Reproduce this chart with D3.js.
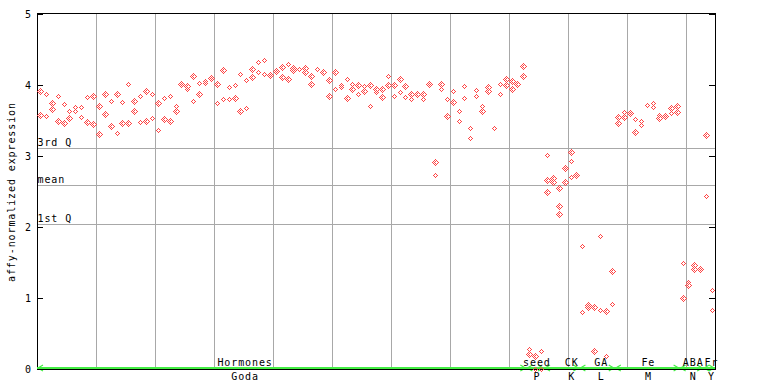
<!DOCTYPE html>
<html><head><meta charset="utf-8">
<script src="https://cdn.jsdelivr.net/npm/d3@7/dist/d3.min.js"></script>
<style>html,body{margin:0;padding:0;background:#fff}</style>
</head><body><svg id="chart" width="768" height="384"></svg>
<script>
// ---- data ----
const groupTop    = ["Hormones", "seed", "CK", "GA", "Fe", "ABA", "Fr"];
const groupBottom = ["Goda", "P", "K", "L", "M", "N", "Y"];
const groupSizes  = [83, 3, 6, 6, 11, 4, 2];

const rep1 = [
  3.91,3.87,3.75,3.84,3.73,3.64,3.69,3.69,3.83,3.85,
  3.71,3.87,3.78,3.88,3.76,4.02,3.77,3.85,3.92,3.88,
  3.74,3.81,3.84,3.71,4.03,3.98,4.13,4.03,4.06,4.10,
  4.02,4.21,3.97,4.00,4.15,4.07,4.23,4.32,4.35,4.16,
  4.21,4.26,4.29,4.24,4.23,4.24,4.12,4.23,4.19,4.07,
  4.19,4.00,4.08,4.02,4.00,3.98,4.00,3.94,3.95,4.12,
  4.00,4.09,3.98,3.87,3.88,3.87,4.02,2.91,4.02,3.80,
  3.91,3.63,3.98,3.40,3.93,3.71,3.97,3.40,4.01,4.08,
  4.05,4.02,4.27,
  0.28,0.18,0.25,
  3.01,2.69,2.55,2.83,3.05,2.73,
  1.73,0.90,0.87,1.87,0.82,1.38,
  3.55,3.62,3.60,3.52,3.50,3.72,3.75,3.58,3.58,3.67,3.70,
  1.49,1.22,1.46,1.41,
  3.29,1.11
];
const rep2 = [
  3.58,3.56,3.66,3.49,3.46,3.53,3.63,3.55,3.48,3.45,
  3.31,3.59,3.42,3.32,3.47,3.46,3.63,3.48,3.49,3.53,
  3.37,3.52,3.50,3.63,4.02,3.95,3.77,3.88,4.03,4.08,
  3.74,3.80,3.80,3.81,3.63,3.68,4.11,4.19,4.15,4.14,
  4.20,4.11,4.09,4.21,4.22,4.18,4.02,4.22,4.18,3.84,
  3.95,3.97,3.81,3.95,3.87,3.91,3.71,3.90,3.83,4.00,
  3.85,3.90,3.83,3.80,3.87,3.80,4.00,2.73,3.95,3.56,
  3.76,3.50,3.81,3.25,3.85,3.63,3.91,3.39,3.88,4.00,
  3.95,4.01,4.13,
  0.21,0.00,0.00,
  2.66,2.63,2.29,2.64,2.93,2.72,
  0.80,0.87,0.25,0.83,0.18,0.92,
  3.47,3.55,3.59,3.34,3.43,null,3.69,3.54,3.57,3.60,3.62,
  1.00,1.19,1.41,1.40,
  2.43,0.83
];
const rep3 = Array.from({length: 115}, () => null);
rep3[86] = 2.49; rep3[88] = 2.19; rep3[89] = 2.82; rep3[90] = 2.71;

const yTicks    = [0, 1, 2, 3, 4, 5];
const refLabels = ["3rd Q", "mean", "1st Q"];
const refValues = [3.11, 2.59, 2.04];

// ---- layout ----
const nSlots = d3.sum(groupSizes);
const labelSlots = [34.8, 84.3, 90.2, 95.2, 103.2, 110.8, 113.9];
const FONT = "'DejaVu Sans Mono', monospace";
const RED = "#ff4444", GRID = "#a8a8a8", GREEN = "#44ee44";

const svg = d3.select("#chart");
const x = d3.scaleLinear().domain([-0.5, nSlots - 0.5]).range([37, 715]);
const y = d3.scaleLinear().domain([0, 5]).range([369, 14]);

// checker pattern for the dotted diamonds
const defs = svg.append("defs");
const pat = defs.append("pattern").attr("id", "chk").attr("patternUnits", "userSpaceOnUse")
  .attr("width", 2).attr("height", 2);
pat.append("rect").attr("x", 0).attr("y", 0).attr("width", 1).attr("height", 1).attr("fill", RED);
pat.append("rect").attr("x", 1).attr("y", 1).attr("width", 1).attr("height", 1).attr("fill", RED);

// vertical grid lines every 10 slots
const vLines = d3.range(10, nSlots, 10).map(k => k - 0.5);
svg.append("g").selectAll("line").data(vLines).join("line")
  .attr("x1", d => Math.round(x(d)) + 0.5).attr("x2", d => Math.round(x(d)) + 0.5)
  .attr("y1", y(5)).attr("y2", y(0))
  .attr("stroke", GRID).attr("stroke-width", 1);

// quartile / mean lines
svg.append("g").selectAll("line").data(refValues).join("line")
  .attr("x1", x.range()[0]).attr("x2", x.range()[1])
  .attr("y1", d => Math.round(y(d)) + 0.5).attr("y2", d => Math.round(y(d)) + 0.5)
  .attr("stroke", GRID).attr("stroke-width", 1);
svg.append("g").selectAll("text").data(refValues).join("text")
  .attr("x", x.range()[0] + 0.5).attr("y", d => Math.round(y(d)) - 2)
  .attr("font-family", FONT).attr("font-size", 10).attr("letter-spacing", 0.9)
  .attr("fill", "#000")
  .text((d, i) => refLabels[i]);

// frame
svg.append("rect").attr("x", 37.5).attr("y", 13.5).attr("width", 678).attr("height", 356)
  .attr("fill", "none").attr("stroke", "#000").attr("stroke-width", 1);

// ticks
const tg = svg.append("g");
tg.selectAll("line.l").data(yTicks).join("line").attr("class", "l")
  .attr("x1", 37).attr("x2", 43)
  .attr("y1", d => Math.round(y(d)) + 0.5).attr("y2", d => Math.round(y(d)) + 0.5)
  .attr("stroke", "#000");
tg.selectAll("line.r").data(yTicks).join("line").attr("class", "r")
  .attr("x1", 709).attr("x2", 715)
  .attr("y1", d => Math.round(y(d)) + 0.5).attr("y2", d => Math.round(y(d)) + 0.5)
  .attr("stroke", "#000");
tg.selectAll("text").data(yTicks).join("text")
  .attr("x", 31).attr("y", d => y(d)).attr("dy", "0.36em")
  .attr("text-anchor", "end")
  .attr("font-family", FONT).attr("font-size", 10).attr("fill", "#000")
  .text(d => d);

// y title
svg.append("text")
  .attr("transform", "translate(15,192) rotate(-90)")
  .attr("text-anchor", "middle")
  .attr("font-family", FONT).attr("font-size", 10).attr("letter-spacing", 0.9)
  .attr("fill", "#000")
  .text("affy-normalized expression");

// groups along the bottom
const starts = [];
groupSizes.reduce((acc, s) => { starts.push(acc); return acc + s; }, 0);
const groups = groupTop.map((t, i) => ({top: t, bottom: groupBottom[i], start: starts[i], end: starts[i] + groupSizes[i] - 1, lab: labelSlots[i]}));

const gg = svg.append("g");
gg.append("line").attr("x1", 37).attr("x2", 715).attr("y1", 368).attr("y2", 368)
  .attr("stroke", GREEN).attr("stroke-width", 2);
groups.forEach(g => {
  const x0 = x(g.start - 0.5), x1 = x(g.end + 0.5);
  gg.append("path").attr("d", `M${x0 + 6},365 L${x0 + 1},368 L${x0 + 6},371`)
    .attr("fill", "none").attr("stroke", GREEN).attr("stroke-width", 1.2);
  gg.append("path").attr("d", `M${x1 - 6},365 L${x1 - 1},368 L${x1 - 6},371`)
    .attr("fill", "none").attr("stroke", GREEN).attr("stroke-width", 1.2);
});
// black x axis line
svg.append("line").attr("x1", 37).attr("x2", 715).attr("y1", 369.5).attr("y2", 369.5)
  .attr("stroke", "#000");

gg.selectAll("text.top").data(groups).join("text").attr("class", "top")
  .attr("x", d => x(d.lab)).attr("y", 366).attr("text-anchor", "middle")
  .attr("font-family", FONT).attr("font-size", 10).attr("letter-spacing", 0.9)
  .attr("fill", "#000").text(d => d.top);
gg.selectAll("text.bot").data(groups).join("text").attr("class", "bot")
  .attr("x", d => x(d.lab)).attr("y", 380).attr("text-anchor", "middle")
  .attr("font-family", FONT).attr("font-size", 10).attr("letter-spacing", 0.9)
  .attr("fill", "#000").text(d => d.bottom);

// points
const pts = [];
[rep1, rep2, rep3].forEach(rep => rep.forEach((v, i) => { if (v !== null && v !== undefined) pts.push({i, v}); }));
const diamond = (cx, cy) => {
  const r = 3.5, q = 1;
  return `M${cx},${cy - r} L${cx + r},${cy} L${cx},${cy + r} L${cx - r},${cy} Z ` +
         `M${cx},${cy - q} L${cx - q},${cy} L${cx},${cy + q} L${cx + q},${cy} Z`;
};
svg.append("g").selectAll("path").data(pts).join("path")
  .attr("d", d => diamond(Math.round(x(d.i)) + 0.5, Math.round(y(d.v)) + 0.5))
  .attr("fill", "url(#chk)").attr("fill-rule", "evenodd")
  .attr("shape-rendering", "crispEdges");
</script>
</body></html>
